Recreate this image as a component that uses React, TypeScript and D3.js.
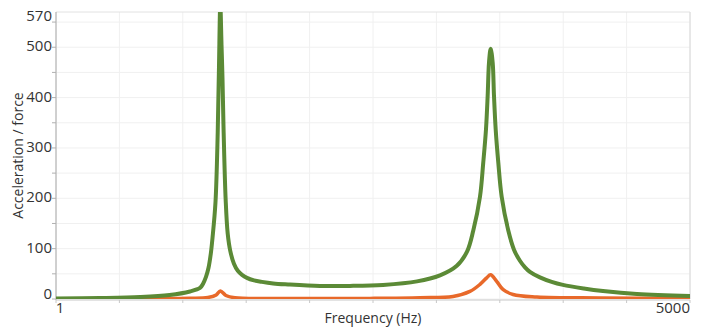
import React from 'react';
import * as d3 from 'd3';

// frequency (Hz) and response
const greenFreq = [1, 1.8, 3.1, 4.6, 6.05, 6.92, 7.2, 7.5, 7.76, 8.0, 8.19, 8.52, 8.78, 8.93, 9.09, 9.24, 9.36, 9.51, 9.77, 10.04, 10.4, 10.92, 11.5, 12.17, 13.0, 14.3, 15.9, 18.5, 22.6, 34.7, 51.9, 80.9, 127.7, 173.9, 218, 250, 272, 297.6, 311, 322.6, 330, 336, 343.6, 352.9, 359.2, 367.5, 380.6, 398.4, 435.3, 470, 509, 545, 582, 666, 780, 907, 1200, 1553, 2453, 5000];
const greenVals = [1, 2, 4, 8, 15, 22, 30, 44, 62, 90, 122, 192, 330, 460, 585, 505, 440, 330, 197, 130, 95, 70, 56, 48, 42, 37, 34, 31, 29, 26, 26, 28, 35, 47, 66, 94, 136, 203, 271, 337, 404, 470, 497, 470, 404, 337, 271, 203, 136, 98, 76, 63, 54, 43, 34, 28, 21, 16, 10, 6];

const orangeFreq = [1, 3, 6, 7.7, 8.6, 9.1, 9.8, 11.07, 20, 50, 67.9, 132.9, 207, 260, 297.6, 325.6, 343, 372.4, 405, 464, 640, 1500, 5000];
const orangeVals = [0.5, 0.8, 1.5, 3, 8, 16, 7, 2.5, 1.2, 1, 1.2, 2.5, 5, 15, 29, 42, 48, 35, 19, 9, 4, 2, 1];

const yTickLabels = [0, 100, 200, 300, 400, 500, 570];
const xTickLabels = [1, 5000];
const yMax = 570;
const xMin = 1;
const xMax = 5000;

const W = 704;
const H = 327;
const m = { left: 56, right: 14, top: 12, bottom: 28 };

export default function App() {
  const x = d3.scaleLog().domain([xMin, xMax]).range([m.left, W - m.right]);
  const y = d3.scaleLinear().domain([0, yMax]).range([H - m.bottom, m.top]);

  const line = d3.line<[number, number]>()
    .x(d => x(d[0]))
    .y(d => y(d[1]))
    .curve(d3.curveCatmullRom.alpha(0.5));

  const green = greenFreq.map((f, i) => [f, greenVals[i]] as [number, number]);
  const orange = orangeFreq.map((f, i) => [f, orangeVals[i]] as [number, number]);

  // evenly spaced log gridlines (10 divisions)
  const lx = Math.log10(xMax);
  const xGrid = d3.range(11).map(i => Math.pow(10, (i * lx) / 10));
  const yGrid = d3.range(0, yMax, 50);

  const font = "'Open Sans', sans-serif";
  const [x0, x1] = x.range();
  const [y0, y1] = y.range();

  return (
    <svg width={W} height={H} style={{ position: 'absolute', left: 0, top: 0 }}>
      <defs>
        <clipPath id="plot">
          <rect x={x0} y={y1} width={x1 - x0} height={y0 - y1} />
        </clipPath>
      </defs>
      <rect width={W} height={H} fill="#fff" />

      {yGrid.map(v => (
        <line key={'gy' + v} x1={x0} x2={x1} y1={y(v)} y2={y(v)} stroke="#f0f0f0" />
      ))}
      {xGrid.map((v, i) => (
        <line key={'gx' + i} x1={x(v)} x2={x(v)} y1={y1} y2={y0} stroke="#f0f0f0" />
      ))}
      <line x1={x0} x2={x1} y1={y1} y2={y1} stroke="#e2e2e2" />
      <line x1={x1} x2={x1} y1={y1} y2={y0} stroke="#d8d8d8" />

      {/* axes */}
      <line x1={x0} x2={x0} y1={y1} y2={y0 + 1} stroke="#a8a8a8" />
      <line x1={x0} x2={x1} y1={y0 + 1} y2={y0 + 1} stroke="#c8c8c8" />
      {yGrid.map(v => (
        <line key={'ty' + v} x1={x0 - 4} x2={x0} y1={y(v)} y2={y(v)} stroke="#b0b0b0" />
      ))}
      {xGrid.map((v, i) => (
        <line key={'tx' + i} x1={x(v)} x2={x(v)} y1={y0 + 1} y2={y0 + 4} stroke="#c8c8c8" />
      ))}

      <g clipPath="url(#plot)" fill="none" strokeLinejoin="round" strokeLinecap="round">
        <path d={line(orange) || ''} stroke="#e8692a" strokeWidth={3.5} />
        <path d={line(green) || ''} stroke="#5b8a36" strokeWidth={4} />
      </g>

      {yTickLabels.map(v => {
        let ty = y(v);
        if (v === yMax) ty += 5;
        if (v === 0) ty -= 4;
        return (
          <text key={'ly' + v} x={x0 - 4} y={ty} textAnchor="end" dominantBaseline="middle"
            fontFamily={font} fontSize={15} fill="#333">{v}</text>
        );
      })}
      {xTickLabels.map((v, i) => (
        <text key={'lx' + v} x={i === 0 ? x(v) + 4 : x(v)} y={313} textAnchor={i === 0 ? 'middle' : 'end'}
          fontFamily={font} fontSize={15} fill="#333">{v}</text>
      ))}

      <text x={(x0 + x1) / 2} y={323} textAnchor="middle" fontFamily={font} fontSize={14} fill="#333">
        Frequency (Hz)
      </text>
      <text transform={`translate(23,${(y0 + y1) / 2}) rotate(-90)`} textAnchor="middle"
        fontFamily={font} fontSize={14} fill="#333">
        Acceleration / force
      </text>
    </svg>
  );
}
